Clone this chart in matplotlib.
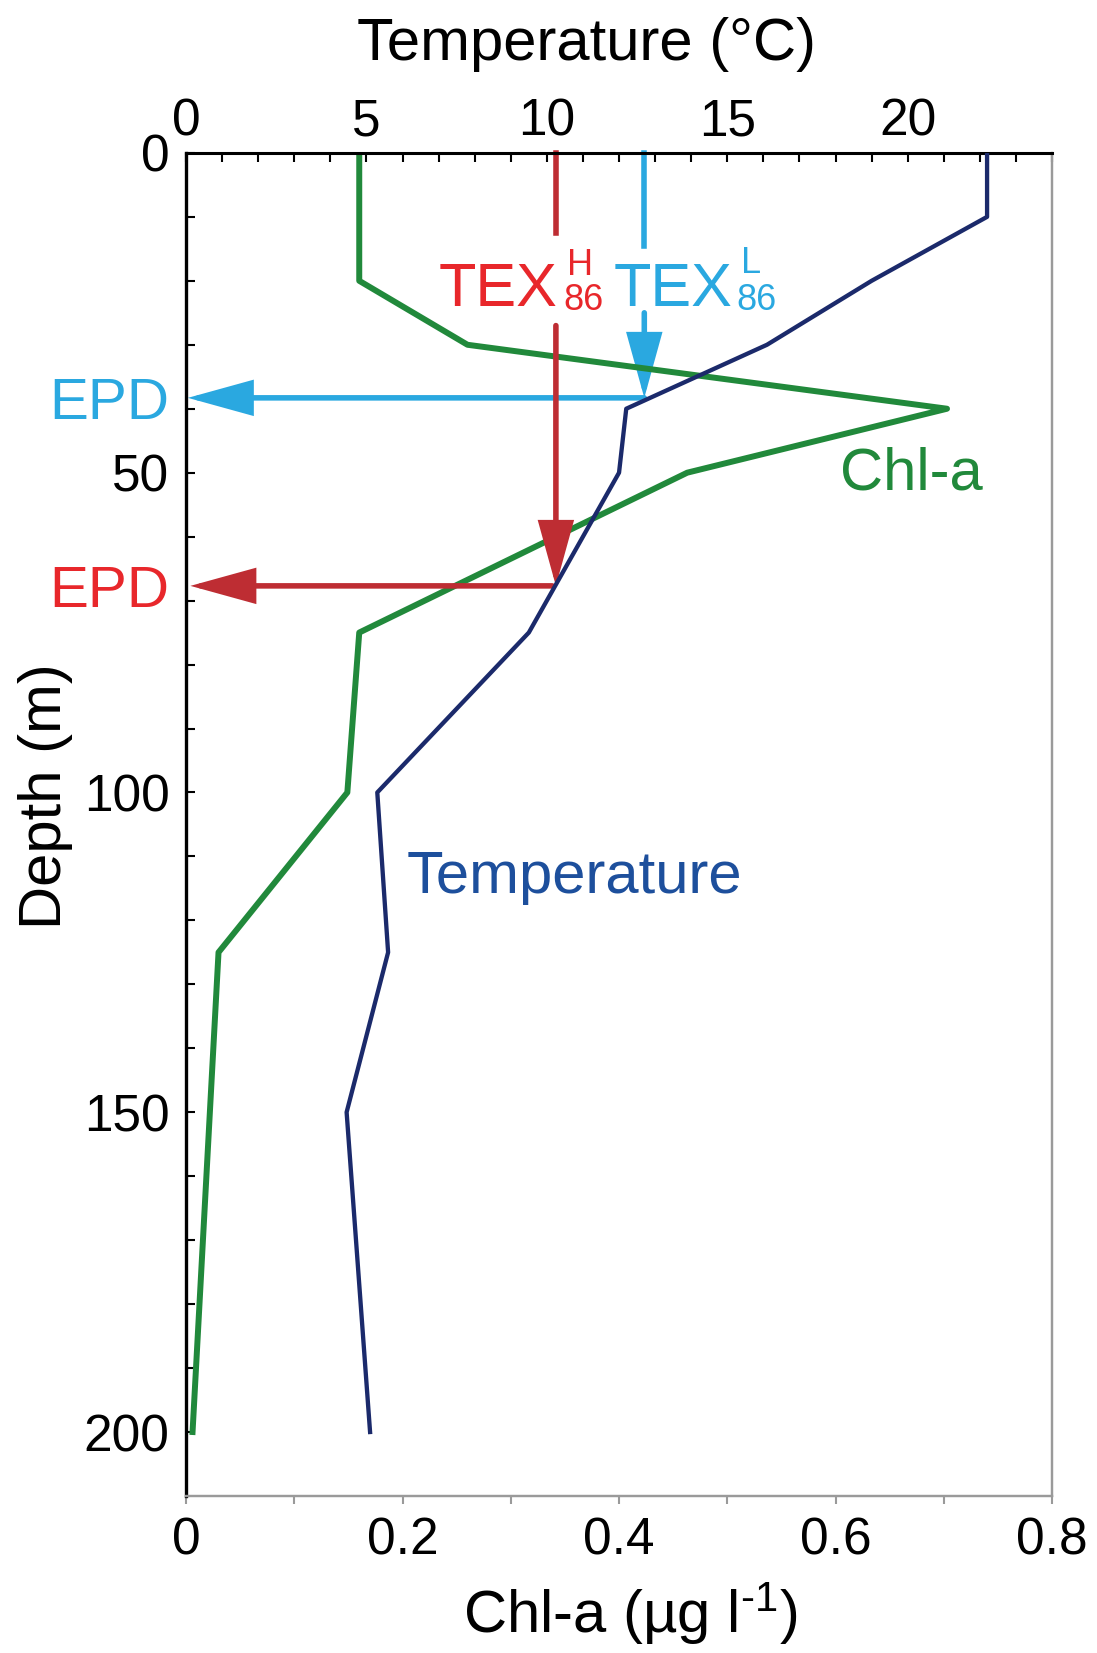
import numpy as np
import matplotlib
matplotlib.use('Agg')
import matplotlib.pyplot as plt

plt.rcParams['font.family'] = ['Liberation Sans', 'DejaVu Sans']
plt.rcParams['mathtext.fontset'] = 'custom'
plt.rcParams['mathtext.rm'] = 'Liberation Sans'
plt.rcParams['mathtext.default'] = 'regular'

# temperature profile (degC vs depth m)
temp_depth = [0, 10, 20, 30, 40, 50, 75, 100, 125, 150, 200]
temp = [22.2, 22.2, 19.0, 16.1, 12.2, 12.0, 9.5, 5.3, 5.6, 4.45, 5.1]

# chlorophyll-a profile (ug/l vs depth m)
chl_depth = [0, 20, 30, 40, 50, 75, 100, 125, 200]
chl = [0.16, 0.16, 0.26, 0.703, 0.463, 0.16, 0.149, 0.03, 0.006]

# TEX86 temperatures and the export production depths they point to
tex_h = 10.25
tex_l = 12.7
epd_h = 67.7
epd_l = 38.3

depth_ticks = [0, 50, 100, 150, 200]
temp_ticks = [0, 5, 10, 15, 20]
chl_ticks = [0, 0.2, 0.4, 0.6, 0.8]
chl_ticklabels = ['0', '0.2', '0.4', '0.6', '0.8']

GREEN = '#21893b'
NAVY = '#1b2a6b'
RED = '#be2d33'
RED_TXT = '#e8272b'
BLUE = '#2aa8e0'
GREY = '#9a9a9a'

fig = plt.figure(figsize=(10.97, 16.53), dpi=100)
ax = fig.add_axes([0.1696, 0.095, 0.7894, 0.8125])
ax2 = ax.twiny()

ax.set_xlim(0, 0.8)
ax.set_ylim(210, 0)
ax2.set_xlim(0, 24)

# spines
ax.spines['left'].set_linewidth(2.4)
ax.spines['left'].set_color('black')
for side in ['bottom', 'right']:
    ax.spines[side].set_linewidth(1.6)
    ax.spines[side].set_color(GREY)
    ax2.spines[side].set_linewidth(1.6)
    ax2.spines[side].set_color(GREY)
ax2.spines['top'].set_linewidth(2.2)
ax2.spines['top'].set_color('black')
ax2.spines['left'].set_visible(False)
ax.spines['top'].set_visible(False)

# ticks
ax.set_yticks(depth_ticks)
ax.set_yticks(np.arange(0, 210, 10), minor=True)
ax.set_xticks(chl_ticks)
ax.set_xticklabels(chl_ticklabels)
ax.set_xticks(np.arange(0, 0.81, 0.1), minor=True)
ax2.set_xticks(temp_ticks)
ax2.set_xticks(np.arange(0, 25, 1), minor=True)

ax.tick_params(axis='y', which='both', direction='in', length=6.5, width=1.5,
               color='black', labelsize=37, pad=12, right=False)
ax.tick_params(axis='x', which='both', direction='out', length=6, width=1.5,
               color=GREY, labelcolor='black', labelsize=37, pad=8.5, top=False)
ax2.tick_params(axis='x', which='both', direction='in', length=6.5, width=1.5,
                color='black', labelsize=37, pad=4.5)

# axis labels
ax2.set_xlabel('Temperature (°C)', fontsize=43)
ax2.xaxis.set_label_coords(0.463, 1.0692)
ax.set_xlabel(r'Chl-a (µg l$^{\text{-1}}$)', fontsize=43)
ax.xaxis.label.set_va('baseline')
ax.xaxis.set_label_coords(0.513, -0.102)
ax.set_ylabel('Depth (m)', fontsize=43)
ax.yaxis.set_label_coords(-0.1305, 0.521)

# profiles
ax.plot(chl, chl_depth, color=GREEN, lw=4.3, zorder=3)
ax2.plot(temp, temp_depth, color=NAVY, lw=3.1, zorder=4)


def arrow(x0, y0, x1, y1, color, z):
    ax.annotate('', xy=(x1, y1), xytext=(x0, y0),
                xycoords=ax2.transData, textcoords=ax2.transData,
                arrowprops=dict(arrowstyle='-|>,head_length=38,head_width=10.5',
                                color=color, lw=4.0, shrinkA=0, shrinkB=0,
                                mutation_scale=1, joinstyle='miter'),
                annotation_clip=False, zorder=z)


# TEX86^H (red), drawn over the chl-a line
ax.plot([tex_h, tex_h], [0, 12.5], color=RED, lw=4.0, zorder=4,
        transform=ax2.transData, clip_on=False)
arrow(tex_h, 27, tex_h, epd_h, RED, 4)
arrow(tex_h - 0.1, epd_h, 0.12, epd_h, RED, 4)

# TEX86^L (blue), under the chl-a line
ax.plot([tex_l, tex_l], [0, 14.6], color=BLUE, lw=4.0, zorder=2,
        transform=ax2.transData, clip_on=False)
arrow(tex_l, 25, tex_l, epd_l, BLUE, 2)
arrow(tex_l, epd_l, 0.05, epd_l, BLUE, 2)

# labels
ax2.text(7.0, 23.9, 'TEX', color=RED_TXT, fontsize=44, va='baseline', ha='left')
ax2.text(10.47, 24.5, '86', color=RED_TXT, fontsize=26, va='baseline', ha='left')
ax2.text(10.56, 19.1, 'H', color=RED_TXT, fontsize=26, va='baseline', ha='left')
ax2.text(11.86, 23.9, 'TEX', color=BLUE, fontsize=44, va='baseline', ha='left')
ax2.text(15.25, 24.5, '86', color=BLUE, fontsize=26, va='baseline', ha='left')
ax2.text(15.39, 18.8, 'L', color=BLUE, fontsize=26, va='baseline', ha='left')

ytr = ax.get_yaxis_transform()
ax.annotate('EPD', xy=(0, epd_l), xycoords=ytr, xytext=(-12, -15),
            textcoords='offset points', ha='right', va='baseline',
            fontsize=42, color=BLUE, annotation_clip=False)
ax.annotate('EPD', xy=(0, epd_h), xycoords=ytr, xytext=(-12, -15),
            textcoords='offset points', ha='right', va='baseline',
            fontsize=42, color=RED_TXT, annotation_clip=False)

ax.text(0.604, 50.2, 'Chl-a', color=GREEN, fontsize=43, va='center', ha='left')
ax2.text(6.1, 113.3, 'Temperature', color='#1d4f9c', fontsize=43,
         va='center', ha='left')

fig.savefig('out.png', dpi=100)
